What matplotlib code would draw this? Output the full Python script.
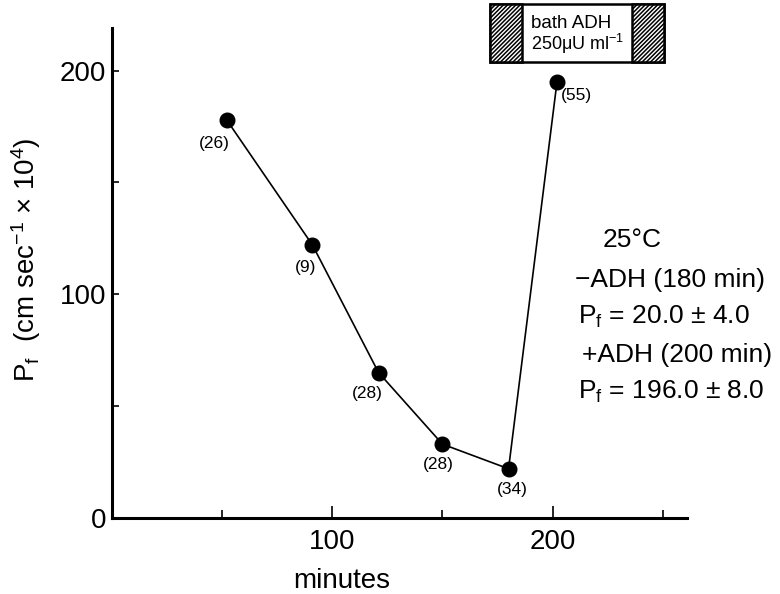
import matplotlib
matplotlib.use("Agg")
import matplotlib.pyplot as plt
from matplotlib.patches import Rectangle


# valores
minutes = [52, 91, 121, 150, 180, 202]
pf = [178, 122, 65, 33, 22, 195]
n_obs = ["(26)", "(9)", "(28)", "(28)", "(34)", "(55)"]

x_major = [100, 200]
x_minor = [50, 150, 250]
y_major = [0, 100, 200]
y_minor = [50, 150]

summary = ["25°C", "−ADH (180 min)", "P$_f$ = 20.0 ± 4.0",
           "+ADH (200 min)", "P$_f$ = 196.0 ± 8.0"]
box_lines = ["bath ADH", "250μU ml$^{-1}$"]

plt.rcParams["font.family"] = ["Liberation Sans", "DejaVu Sans"]
plt.rcParams["mathtext.default"] = "regular"
plt.rcParams["hatch.linewidth"] = 1.1

W, H = 780, 594
fig = plt.figure(figsize=(W / 100, H / 100), dpi=100)
ax = fig.add_axes([112 / W, 1 - 518 / H, 575 / W, 490 / H])


def fx(px):
    return px / W


def fy(py):
    return 1 - py / H


ax.plot(minutes, pf, color="black", lw=1.2, marker="o", ms=10.5,
        mfc="black", mec="black")

# deslocamento dos rotulos (n) em pontos
offsets = [(-9, -17), (-5, -16), (-8, -15), (-3, -15), (3, -15), (14, -10)]
for x, y, lab, off in zip(minutes, pf, n_obs, offsets):
    ax.annotate(lab, (x, y), xytext=off, textcoords="offset points",
                ha="center", va="center", fontsize=12.5)

ax.set_xlim(0, 261)
ax.set_ylim(0, 219)
for s in ["top", "right"]:
    ax.spines[s].set_visible(False)
for s in ["left", "bottom"]:
    ax.spines[s].set_linewidth(2.2)

ax.set_xticks(x_major)
ax.set_xticks(x_minor, minor=True)
ax.set_yticks(y_major)
ax.set_yticks(y_minor, minor=True)
ax.tick_params(which="both", direction="in", width=1.2, labelsize=20)
ax.tick_params(axis="x", which="major", length=9, pad=8)
ax.tick_params(axis="x", which="minor", length=5.5)
ax.tick_params(axis="y", which="both", length=5, pad=4)

ax.set_xlabel("minutes", fontsize=20, va="center")
ax.xaxis.set_label_coords(0.4, -0.129)
ax.set_ylabel("P$_f$  (cm sec$^{-1}$ × 10$^4$)", fontsize=20, va="center")
ax.yaxis.set_label_coords(-0.15, 0.527)

# bloco de texto a direita
fig.text(fx(632), fy(240), summary[0], ha="center", va="center", fontsize=19)
for line, xp, yp in zip(summary[1:], [575, 578, 582, 578], [280, 317, 355, 392]):
    fig.text(fx(xp), fy(yp), line, ha="left", va="center", fontsize=19)

# caixa "bath ADH"
bx, by, bw, bh = fx(490), fy(62), 174 / W, 58 / H
hw = 32 / W
fig.add_artist(Rectangle((bx, by), bw, bh, transform=fig.transFigure,
                         fill=False, ec="black", lw=1.8))
for left in [bx, bx + bw - hw]:
    fig.add_artist(Rectangle((left, by), hw, bh, transform=fig.transFigure,
                             fc="white", ec="black", lw=1.8, hatch="////////"))
fig.text(fx(531), fy(23), box_lines[0], ha="left", va="center", fontsize=13.5)
fig.text(fx(531), fy(44), box_lines[1], ha="left", va="center", fontsize=13)

fig.savefig("out.png", dpi=100)
